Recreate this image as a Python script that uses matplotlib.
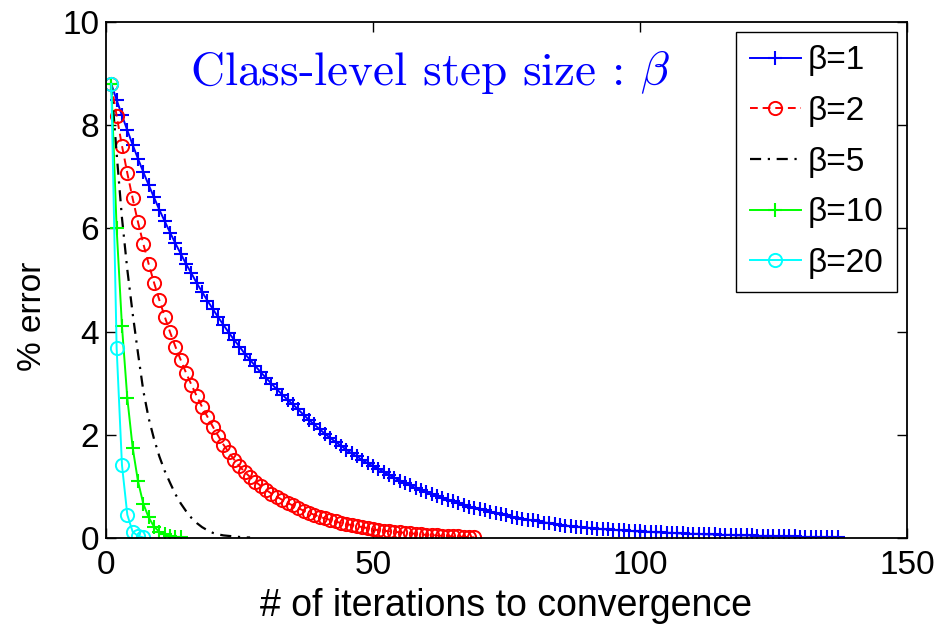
import matplotlib
matplotlib.use("Agg")
import matplotlib.pyplot as plt

plt.rcParams['font.family'] = ['Liberation Sans', 'DejaVu Sans']
plt.rcParams['mathtext.fontset'] = 'cm'

# ---------------- data ----------------
labels = ["β=1", "β=2", "β=5", "β=10", "β=20"]

iters_b1 = list(range(1, 138))
err_b1 = [
    8.80, 8.49, 8.19, 7.90, 7.62, 7.35, 7.09, 6.84, 6.60, 6.36,
    6.14, 5.92, 5.71, 5.51, 5.31, 5.13, 4.94, 4.77, 4.60, 4.44,
    4.28, 4.13, 3.98, 3.84, 3.71, 3.57, 3.45, 3.33, 3.21, 3.10,
    2.99, 2.88, 2.78, 2.68, 2.59, 2.49, 2.39, 2.29, 2.20, 2.11,
    2.02, 1.94, 1.86, 1.79, 1.71, 1.64, 1.58, 1.51, 1.45, 1.39,
    1.34, 1.28, 1.22, 1.17, 1.11, 1.06, 1.02, 0.97, 0.93, 0.89,
    0.85, 0.81, 0.77, 0.74, 0.71, 0.67, 0.64, 0.61, 0.59, 0.56,
    0.54, 0.51, 0.49, 0.46, 0.44, 0.41, 0.39, 0.37, 0.35, 0.34,
    0.32, 0.30, 0.29, 0.27, 0.26, 0.24, 0.23, 0.22, 0.21, 0.20,
    0.19, 0.18, 0.17, 0.17, 0.16, 0.15, 0.15, 0.14, 0.13, 0.13,
    0.12, 0.12, 0.11, 0.11, 0.10, 0.10, 0.09, 0.09, 0.08, 0.08,
    0.08, 0.07, 0.07, 0.07, 0.06, 0.06, 0.06, 0.05, 0.05, 0.05,
    0.05, 0.04, 0.04, 0.04, 0.04, 0.03, 0.03, 0.03, 0.03, 0.02,
    0.02, 0.02, 0.02, 0.01, 0.01, 0.01, 0.01,
]

iters_b2 = list(range(1, 70))
err_b2 = [
    8.80, 8.18, 7.60, 7.07, 6.58, 6.12, 5.70, 5.31, 4.95, 4.61,
    4.29, 3.99, 3.71, 3.45, 3.20, 2.97, 2.75, 2.54, 2.35, 2.16,
    1.98, 1.81, 1.66, 1.52, 1.39, 1.28, 1.18, 1.09, 1.01, 0.93,
    0.86, 0.80, 0.74, 0.68, 0.63, 0.58, 0.53, 0.49, 0.45, 0.41,
    0.38, 0.35, 0.32, 0.29, 0.27, 0.25, 0.23, 0.21, 0.19, 0.17,
    0.15, 0.14, 0.13, 0.12, 0.11, 0.10, 0.09, 0.08, 0.07, 0.06,
    0.06, 0.05, 0.04, 0.04, 0.03, 0.03, 0.02, 0.02, 0.01,
]

iters_b5 = list(range(1, 28))
err_b5 = [
    8.80, 7.45, 6.20, 5.20, 4.35, 3.58, 2.85, 2.32, 1.92, 1.58,
    1.30, 1.07, 0.85, 0.67, 0.52, 0.39, 0.29, 0.21, 0.15, 0.10,
    0.07, 0.05, 0.04, 0.03, 0.02, 0.01, 0.01,
]

iters_b10 = list(range(1, 15))
err_b10 = [8.80, 6.00, 4.10, 2.71, 1.75, 1.10, 0.66, 0.40, 0.22, 0.12,
           0.07, 0.04, 0.02, 0.01]

iters_b20 = list(range(1, 8))
err_b20 = [8.80, 3.68, 1.41, 0.45, 0.12, 0.04, 0.01]

xticks = [0, 50, 100, 150]
yticks = [0, 2, 4, 6, 8, 10]

# ---------------- figure ----------------
fig = plt.figure(figsize=(9.41, 6.26), dpi=100)
ax = fig.add_axes([0.1126, 0.1406, 0.8512, 0.8243])

ax.plot(iters_b1, err_b1, color=(0, 0, 1), linestyle='-', linewidth=1.4,
        marker='+', markersize=10, markeredgewidth=1.5, label=labels[0])
ax.plot(iters_b2, err_b2, color=(1, 0, 0), linestyle=(0, (4, 2.5)), linewidth=1.4,
        marker='o', markersize=9.5, markerfacecolor='none', markeredgewidth=1.4,
        label=labels[1])
ax.plot(iters_b5, err_b5, color='k', linestyle=(0, (5, 3, 1, 3)), linewidth=1.6,
        label=labels[2])
ax.plot(iters_b10, err_b10, color=(0, 1, 0), linestyle='-', linewidth=1.4,
        marker='+', markersize=10, markeredgewidth=1.5, label=labels[3])
ax.plot(iters_b20, err_b20, color=(0, 1, 1), linestyle='-', linewidth=1.4,
        marker='o', markersize=9.5, markerfacecolor='none', markeredgewidth=1.4,
        label=labels[4])

ax.set_xlim(0, 150)
ax.set_ylim(0, 10)
ax.set_xticks(xticks)
ax.set_yticks(yticks)
ax.tick_params(direction='in', top=True, right=True, length=7, width=1,
               labelsize=24, color='k')
ax.tick_params(axis='x', pad=9)
ax.tick_params(axis='y', pad=5)
for s in ax.spines.values():
    s.set_linewidth(1.3)
    s.set_color('k')

ax.set_xlabel("# of iterations to convergence", fontsize=27)
ax.xaxis.set_label_coords(0.5, -0.097)
ax.set_ylabel("% error", fontsize=24)
ax.yaxis.set_label_coords(-0.072, 0.43)

ax.text(0.405, 0.903, "Class-level step size : $\\beta$", transform=ax.transAxes,
        ha='center', va='center', color=(0, 0, 1), fontsize=34,
        fontfamily='cmr10')

leg = ax.legend(loc='upper right', bbox_to_anchor=(0.9875, 0.9806),
                fontsize=24, frameon=True, fancybox=False, framealpha=1,
                edgecolor='k', borderpad=0.4, labelspacing=0.59,
                handlelength=1.55, handletextpad=0.2, borderaxespad=0,
                numpoints=1)
leg.get_frame().set_linewidth(1.0)

fig.savefig("out.png", dpi=100)
